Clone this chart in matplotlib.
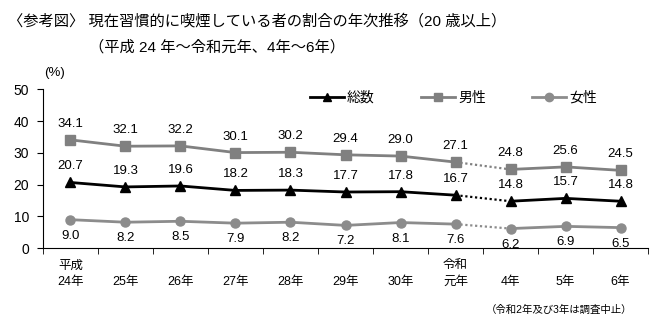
import matplotlib
matplotlib.use("Agg")
import matplotlib.pyplot as plt
from matplotlib.lines import Line2D

plt.rcParams['font.family'] = ['Liberation Sans', 'Noto Sans CJK JP', 'DejaVu Sans']

years = ['平成\n24年', '\n25年', '\n26年', '\n27年', '\n28年', '\n29年', '\n30年',
         '令和\n元年', '\n4年', '\n5年', '\n6年']
total = [20.7, 19.3, 19.6, 18.2, 18.3, 17.7, 17.8, 16.7, 14.8, 15.7, 14.8]
male = [34.1, 32.1, 32.2, 30.1, 30.2, 29.4, 29.0, 27.1, 24.8, 25.6, 24.5]
female = [9.0, 8.2, 8.5, 7.9, 8.2, 7.2, 8.1, 7.6, 6.2, 6.9, 6.5]
gap = 7  # survey suspended between index 7 and 8

series = [
    ('総数', total, 'black', '^', 1),
    ('男性', male, '#808080', 's', 1),
    ('女性', female, '#8c8c8c', 'o', -1),
]

fig = plt.figure(figsize=(6.6, 3.3), dpi=100)
ax = fig.add_axes([0.065, 0.2476, 0.917, 0.4818])
x = list(range(len(years)))

handles = []
for name, vals, col, mk, side in series:
    ax.plot(x[:gap + 1], vals[:gap + 1], color=col, lw=2, marker=mk, ms=6.5,
            markeredgecolor=col, clip_on=False, zorder=3)
    ax.plot(x[gap:gap + 2], vals[gap:gap + 2], color=col, lw=1.6, ls=(0, (1, 1.2)), zorder=2)
    ax.plot(x[gap + 1:], vals[gap + 1:], color=col, lw=2, marker=mk, ms=6.5,
            markeredgecolor=col, clip_on=False, zorder=3)
    for xi, v in zip(x, vals):
        ax.annotate(f'{v:.1f}', (xi, v), xytext=(0, 16 * side), textcoords='offset pixels',
                    ha='center', va='center', fontsize=9.5, color='black')
    handles.append(Line2D([], [], color=col, lw=2, marker=mk, ms=6, label=name))

ax.set_xlim(-0.5, len(years) - 0.5)
ax.set_ylim(0, 50)
ax.set_yticks([0, 10, 20, 30, 40, 50])
ax.tick_params(axis='y', labelsize=10, length=4, direction='out', pad=6)
ax.set_xticks(x)
ax.set_xticklabels(years, fontsize=9, linespacing=1.5)
ax.tick_params(axis='x', which='major', length=0, pad=8)
ax.set_xticks([i - 0.5 for i in range(len(years) + 1)], minor=True)
ax.tick_params(axis='x', which='minor', length=4, direction='out')
for s in ['top', 'right']:
    ax.spines[s].set_visible(False)

ax.legend(handles=handles, loc='upper left', bbox_to_anchor=(0.42, 1.07), ncol=3,
          frameon=False, fontsize=10, handlelength=2.5, handletextpad=0.2,
          columnspacing=3.3)

fig.text(0.082, 0.78, '(%)', fontsize=9.5, ha='center', va='center')
fig.text(0.012, 0.935, '〈参考図〉 現在習慣的に喫煙している者の割合の年次推移（20 歳以上）',
         fontsize=11, ha='left', va='center')
fig.text(0.135, 0.858, '（平成 24 年～令和元年、4年～6年）', fontsize=11, ha='left', va='center')
fig.text(0.958, 0.06, '（令和2年及び3年は調査中止）', fontsize=7.5, ha='right', va='center')

fig.savefig('out.png', dpi=100)
